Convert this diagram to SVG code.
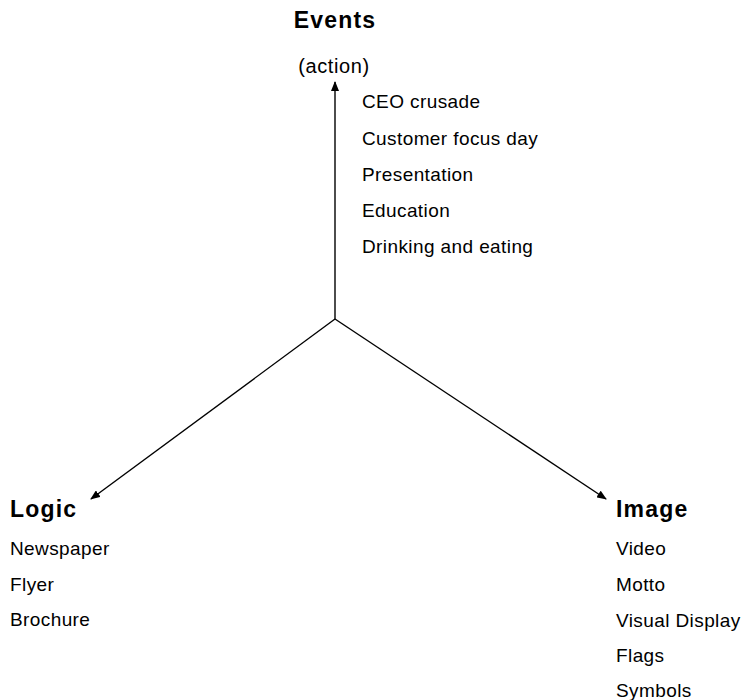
<svg xmlns="http://www.w3.org/2000/svg" width="748" height="700" viewBox="0 0 748 700">
<style>
.h{font-family:"Liberation Sans",Arial,sans-serif;font-weight:bold;font-size:23px;letter-spacing:1.2px;fill:#000}
.t{font-family:"Liberation Sans",Arial,sans-serif;font-size:19px;letter-spacing:0.4px;fill:#000}
.a{font-family:"Liberation Sans",Arial,sans-serif;font-size:20px;letter-spacing:0.6px;fill:#000}
.c{stroke:#000;stroke-width:1.4;fill:none}
</style>
<defs>
<marker id="ah" markerWidth="10" markerHeight="8" refX="9" refY="4" orient="auto" markerUnits="userSpaceOnUse">
<path d="M0,0 L10,4 L0,8 Z" fill="#000"/>
</marker>
</defs>
<rect width="748" height="700" fill="#fff"/>
<g id="connectors">
<line class="c" x1="335" y1="319" x2="335" y2="82" marker-end="url(#ah)"/>
<line class="c" x1="335" y1="319" x2="91" y2="499" marker-end="url(#ah)"/>
<line class="c" x1="335" y1="319" x2="606" y2="499" marker-end="url(#ah)"/>
</g>
<g id="events">
<text class="h" x="335" y="28" text-anchor="middle">Events</text>
<text class="a" x="334" y="73" text-anchor="middle">(action)</text>
<text class="t" x="362" y="108">CEO crusade</text>
<text class="t" x="362" y="145">Customer focus day</text>
<text class="t" x="362" y="181">Presentation</text>
<text class="t" x="362" y="217">Education</text>
<text class="t" x="362" y="253">Drinking and eating</text>
</g>
<g id="logic">
<text class="h" x="10" y="517">Logic</text>
<text class="t" x="10" y="555">Newspaper</text>
<text class="t" x="10" y="591">Flyer</text>
<text class="t" x="10" y="626">Brochure</text>
</g>
<g id="image">
<text class="h" x="616" y="517">Image</text>
<text class="t" x="616" y="555">Video</text>
<text class="t" x="616" y="591">Motto</text>
<text class="t" x="616" y="627">Visual Display</text>
<text class="t" x="616" y="662">Flags</text>
<text class="t" x="616" y="697">Symbols</text>
</g>
</svg>
